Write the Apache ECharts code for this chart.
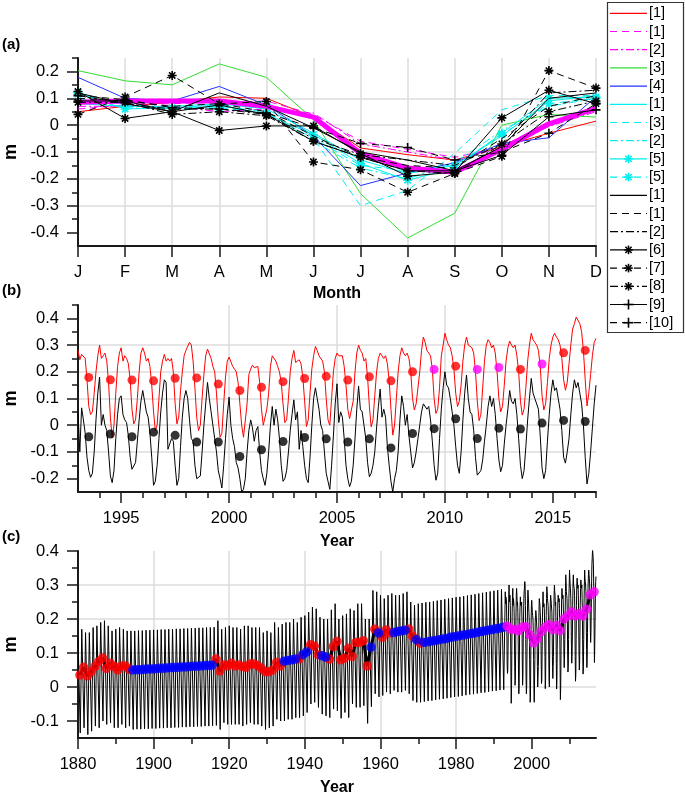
<!DOCTYPE html>
<html><head><meta charset="utf-8">
<script src="https://cdn.jsdelivr.net/npm/echarts@6/dist/echarts.min.js"></script>
<style>html,body{margin:0;padding:0;background:#fff}#c{width:685px;height:796px}</style>
</head><body><div id="c"></div>
<script>
// ---------------- Panel (a): monthly climatology ----------------
const monthLabels = ['J','F','M','A','M','J','J','A','S','O','N','D'];
const seaMean      = [0.085, 0.09, 0.09, 0.09, 0.07, 0.03, -0.105, -0.16, -0.175, -0.09, 0.005, 0.062];
const red1         = [0.05, 0.07, 0.085, 0.105, 0.1, 0.03, -0.085, -0.11, -0.13, -0.08, -0.03, 0.015];
const magDash1     = [0.06, 0.075, 0.08, 0.085, 0.09, 0.04, -0.06, -0.09, -0.12, -0.08, 0.01, 0.055];
const magDashDot2  = [0.07, 0.07, 0.07, 0.05, 0.06, 0.045, -0.07, -0.1, -0.13, -0.085, -0.005, 0.05];
const green3       = [0.203, 0.165, 0.15, 0.228, 0.178, 0.02, -0.255, -0.42, -0.328, 0.0, 0.04, 0.03];
const blue4        = [0.178, 0.10, 0.09, 0.144, 0.075, -0.04, -0.225, -0.178, -0.14, -0.068, -0.047, 0.106];
const cyan1        = [0.08, 0.07, 0.07, 0.08, 0.06, -0.03, -0.13, -0.18, -0.15, -0.04, 0.09, 0.11];
const cyanDash3    = [0.09, 0.08, 0.06, 0.07, 0.09, -0.05, -0.3, -0.243, -0.105, 0.057, 0.11, 0.11];
const cyanDashDot2 = [0.1, 0.065, 0.06, 0.07, 0.05, -0.06, -0.16, -0.2, -0.14, -0.02, 0.07, 0.1];
const cyanStar5    = [0.12, 0.06, 0.065, 0.075, 0.04, -0.035, -0.143, -0.205, -0.16, -0.03, 0.1, 0.105];
const cyanStarDash5= [0.115, 0.075, 0.06, 0.065, 0.045, -0.05, -0.15, -0.17, -0.15, -0.035, 0.08, 0.1];
const black1       = [0.12, 0.08, 0.05, 0.12, 0.07, -0.01, -0.1, -0.13, -0.17, -0.08, 0.1, 0.12];
const blackDash1   = [0.1, 0.09, 0.07, 0.08, 0.05, -0.04, -0.12, -0.15, -0.16, -0.05, 0.07, 0.11];
const blackDashDot2= [0.11, 0.08, 0.06, 0.06, 0.04, -0.05, -0.11, -0.13, -0.15, -0.07, 0.12, 0.13];
const blackStar6   = [0.125, 0.025, 0.05, -0.02, -0.003, -0.003, -0.106, -0.19, -0.175, 0.027, 0.13, 0.08];
const blackStarDash7 = [0.04, 0.105, 0.185, 0.079, 0.088, -0.137, -0.166, -0.25, -0.18, -0.116, 0.203, 0.138];
const blackStarDashDot8 = [0.085, 0.085, 0.04, 0.05, 0.035, -0.06, -0.12, -0.17, -0.18, -0.07, 0.05, 0.09];
const blackPlus9   = [0.09, 0.09, 0.05, 0.075, 0.04, -0.06, -0.12, -0.17, -0.17, -0.112, 0.031, 0.057];
const blackPlusDash10 = [0.11, 0.095, 0.065, 0.06, 0.045, -0.01, -0.068, -0.083, -0.13, -0.1, -0.03, 0.08];
const legendLabelsA = ['[1]','[1]','[2]','[3]','[4]','[1]','[3]','[2]','[5]','[5]','[1]','[1]','[2]','[6]','[7]','[8]','[9]','[10]'];

// ---------------- Panel (b): monthly 1993-2016 ----------------
const firstYearB = 1993;
const redMonthlyB = [
 0.28,0.245,0.265,0.27,0.25,0.17,0.07,0.04,0.05,0.12,0.2,0.26,
 0.30,0.25,0.26,0.27,0.24,0.16,0.03,-0.048,0.0,0.12,0.22,0.27,
 0.29,0.24,0.26,0.25,0.23,0.17,0.06,0.005,0.02,0.1,0.2,0.27,
 0.29,0.27,0.24,0.25,0.22,0.15,0.05,-0.02,0.0,0.1,0.2,0.24,
 0.265,0.24,0.25,0.24,0.25,0.2,0.08,0.005,0.03,0.13,0.2,0.26,
 0.28,0.28,0.31,0.3,0.24,0.14,0.03,-0.02,0.0,0.1,0.19,0.26,
 0.285,0.28,0.25,0.22,0.2,0.12,0.02,-0.045,-0.03,0.08,0.18,0.24,
 0.255,0.25,0.22,0.21,0.2,0.16,0.08,0.0,-0.045,-0.04,0.08,0.19,
 0.21,0.225,0.215,0.22,0.22,0.16,0.06,0.0,0.0,0.06,0.12,0.22,
 0.26,0.255,0.24,0.22,0.2,0.16,0.08,0.01,0.02,0.1,0.2,0.25,
 0.28,0.235,0.24,0.245,0.23,0.18,0.09,-0.005,0.02,0.12,0.21,0.26,
 0.295,0.28,0.26,0.26,0.24,0.2,0.1,0.02,0.0,0.1,0.2,0.25,
 0.27,0.26,0.255,0.26,0.22,0.15,0.06,0.025,0.03,0.09,0.2,0.27,
 0.3,0.28,0.27,0.24,0.25,0.18,0.07,-0.006,0.02,0.11,0.2,0.25,
 0.27,0.26,0.25,0.26,0.23,0.17,0.06,-0.037,0.0,0.1,0.2,0.26,
 0.29,0.27,0.26,0.27,0.25,0.2,0.1,0.057,0.08,0.14,0.2,0.28,
 0.33,0.31,0.28,0.27,0.26,0.21,0.1,0.044,0.06,0.14,0.26,0.3,
 0.344,0.32,0.3,0.29,0.26,0.21,0.12,0.07,0.09,0.15,0.24,0.3,
 0.33,0.3,0.3,0.29,0.27,0.2,0.09,0.017,0.04,0.14,0.24,0.3,
 0.32,0.31,0.29,0.3,0.27,0.2,0.1,0.05,0.07,0.15,0.24,0.29,
 0.315,0.3,0.29,0.3,0.26,0.2,0.09,0.038,0.06,0.14,0.24,0.3,
 0.344,0.32,0.31,0.3,0.28,0.22,0.11,0.057,0.08,0.16,0.25,0.3,
 0.33,0.344,0.33,0.32,0.3,0.25,0.17,0.131,0.16,0.23,0.3,0.36,
 0.38,0.405,0.4,0.38,0.35,0.28,0.17,0.072,0.12,0.19,0.26,0.31,
 0.325];
const blackMonthlyB = [
 0.05,-0.1,0.065,0.02,-0.03,-0.12,-0.17,-0.195,-0.18,-0.1,0.02,0.12,
 0.18,0.0,0.04,0.0,-0.02,-0.1,-0.19,-0.215,-0.17,-0.05,0.04,0.1,
 0.11,0.04,0.02,0.01,-0.04,-0.12,-0.165,-0.16,-0.14,-0.06,0.02,0.09,
 0.13,0.09,0.05,0.03,-0.03,-0.12,-0.225,-0.21,-0.15,-0.05,0.05,0.12,
 0.17,0.16,-0.09,-0.07,-0.05,-0.06,-0.15,-0.225,-0.2,-0.08,0.03,0.1,
 0.13,0.1,0.02,-0.05,-0.06,-0.15,-0.2,-0.205,-0.19,-0.1,0.0,0.08,
 0.16,0.1,0.05,0.0,-0.05,-0.1,-0.17,-0.2,-0.235,-0.15,-0.05,0.04,
 0.105,0.0,-0.05,-0.08,-0.14,-0.16,-0.2,-0.25,-0.24,-0.2,-0.1,-0.02,
 0.02,-0.01,-0.06,-0.02,-0.005,-0.1,-0.17,-0.2,-0.225,-0.18,-0.1,0.0,
 0.07,0.0,0.06,0.02,-0.05,-0.15,-0.21,-0.2,-0.17,-0.1,-0.02,0.04,
 0.095,0.02,0.05,-0.09,-0.02,-0.08,-0.15,-0.2,-0.215,-0.12,0.0,0.1,
 0.14,0.1,0.06,0.0,-0.02,-0.1,-0.18,-0.21,-0.24,-0.15,-0.04,0.08,
 0.155,0.01,0.05,0.03,-0.05,-0.15,-0.2,-0.23,-0.21,-0.15,-0.05,0.06,
 0.146,0.06,0.05,0.0,-0.05,-0.14,-0.193,-0.18,-0.15,-0.1,-0.01,0.07,
 0.135,0.03,0.06,0.03,-0.08,-0.15,-0.21,-0.25,-0.2,-0.17,-0.1,0.02,
 0.11,0.07,0.0,0.04,-0.04,-0.1,-0.16,-0.14,-0.1,-0.05,0.0,0.05,
 0.08,0.08,0.06,0.07,0.02,-0.06,-0.15,-0.206,-0.18,-0.05,0.06,0.14,
 0.2,0.15,0.14,0.1,0.05,0.0,-0.08,-0.15,-0.18,-0.1,0.02,0.12,
 0.188,0.1,0.05,0.04,-0.02,-0.12,-0.187,-0.18,-0.17,-0.13,-0.06,0.0,
 0.07,0.11,0.07,0.1,0.04,-0.05,-0.13,-0.174,-0.15,-0.07,0.0,0.06,
 0.13,0.09,0.08,0.1,0.04,-0.05,-0.15,-0.2,-0.17,-0.08,0.02,0.1,
 0.175,0.12,0.1,0.1,0.06,-0.04,-0.16,-0.2,-0.17,-0.06,0.04,0.12,
 0.17,0.13,0.14,0.1,0.06,-0.02,-0.12,-0.142,-0.1,-0.05,0.04,0.12,
 0.17,0.14,0.16,0.12,0.08,0.0,-0.12,-0.22,-0.18,-0.1,-0.01,0.08,
 0.15];
const yearsB = [1993,1994,1995,1996,1997,1998,1999,2000,2001,2002,2003,2004,2005,2006,2007,2008,2009,2010,2011,2012,2013,2014,2015,2016];
const redAnnualB = [0.179,0.17,0.169,0.166,0.176,0.177,0.154,0.13,0.142,0.163,0.175,0.183,0.169,0.181,0.166,0.2,0.209,0.221,0.209,0.216,0.209,0.229,0.271,0.28];
const blackAnnualB = [-0.043,-0.033,-0.043,-0.026,-0.038,-0.063,-0.063,-0.117,-0.092,-0.061,-0.046,-0.051,-0.063,-0.051,-0.085,-0.031,-0.013,0.024,-0.05,-0.011,-0.014,0.008,0.018,0.014];
const magentaYearsB = [2009, 2011, 2012, 2014];

// ---------------- Panel (c): 1880-1992 reconstruction ----------------
const firstYearC = 1880;
const highC = [
 0.15,0.17,0.16,0.16,0.175,0.18,0.19,0.195,0.18,0.165,0.17,0.175,0.17,0.165,
 0.165,0.165,0.166,0.166,0.167,0.167,0.168,0.168,0.169,0.169,0.17,0.17,0.171,0.171,0.172,0.172,0.173,0.173,0.174,0.174,0.175,0.175,0.176,
 0.195,0.17,0.175,0.18,0.175,0.175,0.17,0.18,0.18,0.175,0.175,0.175,0.16,0.165,0.16,0.19,0.175,
 0.185,0.19,0.19,0.2,0.19,0.205,0.21,
 0.22,0.235,0.23,0.205,0.2,0.2,0.227,0.245,0.2,0.21,0.215,0.23,0.225,0.245,0.245,0.2,
 0.2,0.284,0.28,0.27,0.26,0.27,0.275,0.27,0.27,0.275,0.28,0.25,0.24,
 0.245,0.247,0.249,0.25,0.252,0.254,0.256,0.258,0.26,0.262,0.264,0.265,0.267,0.269,0.271,0.273,0.275,0.277,0.279,0.281,0.283,0.285,0.287];
const lowC = [
 -0.135,-0.12,-0.14,-0.13,-0.115,-0.12,-0.1,-0.11,-0.105,-0.12,-0.12,-0.11,-0.12,-0.115,
 -0.125,-0.124,-0.124,-0.123,-0.123,-0.122,-0.122,-0.121,-0.121,-0.12,-0.12,-0.119,-0.119,-0.118,-0.118,-0.117,-0.117,-0.116,-0.116,-0.115,-0.115,-0.114,-0.113,
 -0.125,-0.105,-0.11,-0.11,-0.11,-0.11,-0.115,-0.11,-0.105,-0.11,-0.11,-0.115,-0.125,-0.12,-0.115,-0.095,-0.1,
 -0.1,-0.095,-0.095,-0.09,-0.09,-0.085,-0.075,
 -0.05,-0.045,-0.06,-0.08,-0.085,-0.09,-0.065,-0.07,-0.092,-0.075,-0.09,-0.05,-0.06,-0.06,-0.055,-0.107,
 -0.058,-0.02,-0.029,-0.025,-0.015,-0.02,-0.01,-0.015,-0.015,-0.01,-0.02,-0.04,-0.045,
 -0.045,-0.043,-0.041,-0.04,-0.038,-0.036,-0.035,-0.033,-0.031,-0.029,-0.028,-0.026,-0.024,-0.022,-0.021,-0.019,-0.017,-0.016,-0.014,-0.012,-0.011,-0.009,-0.008];
const annualC = [
 0.035,0.058,0.033,0.045,0.06,0.075,0.085,0.055,0.07,0.06,0.05,0.062,0.062,0.052,
 0.050,0.051,0.051,0.052,0.053,0.053,0.054,0.055,0.055,0.056,0.057,0.057,0.058,0.059,0.059,0.060,0.061,0.061,0.062,0.063,0.063,0.064,
 0.082,0.047,0.065,0.062,0.07,0.062,0.065,0.06,0.058,0.068,0.068,0.063,0.055,0.045,0.045,0.05,0.072,0.062,
 0.076,0.078,0.08,0.082,0.083,0.095,0.103,
 0.124,0.12,0.095,0.092,0.088,
 0.082,0.119,0.134,0.08,0.085,0.114,0.09,0.131,0.131,0.136,0.062,
 0.117,0.17,0.159,0.146,0.168,0.159,0.16,0.163,0.165,0.167,0.17,0.149,0.139,0.129,
 0.131,0.133,0.135,0.137,0.139,0.141,0.143,0.146,0.148,0.15,0.152,0.154,0.156,0.158,0.16,0.163,0.165,0.167,0.169,0.171,0.173,0.176];
const filledYearsC = [1894,1895,1896,1897,1898,1899,1900,1901,1902,1903,1904,1905,1906,1907,1908,1909,1910,1911,1912,1913,1914,1915,
 1934,1935,1936,1937,1939,1940,1944,1945,1957,1959,1963,1964,1965,1966,1969,
 1971,1972,1973,1974,1975,1976,1977,1978,1979,1980,1981,1982,1983,1984,1985,1986,1987,1988,1989,1990,1991,1992];

// ---------------- styling ----------------
const FONT = '"Liberation Sans", Arial, Helvetica, sans-serif';
const AX = '#1a1a1a', GRIDC = '#dcdcdc';
const DASH = [7, 5], DASHDOT = [8, 3, 2, 3];
const STAR = 'path://M5,0L5,10M0,5L10,5M1.5,1.5L8.5,8.5M1.5,8.5L8.5,1.5';
const PLUS = 'path://M5,0L5,10M0,5L10,5';
const RED = '#ff0000', MAG = '#ff00ff', GRN = '#33dd33', BLU = '#2233ff', CYN = '#00eeee', BLK = '#000000';

const specA = [
 {d: red1, c: RED, t: 'solid'},
 {d: magDash1, c: MAG, t: DASH},
 {d: magDashDot2, c: MAG, t: DASHDOT},
 {d: green3, c: GRN, t: 'solid'},
 {d: blue4, c: BLU, t: 'solid'},
 {d: cyan1, c: CYN, t: 'solid'},
 {d: cyanDash3, c: CYN, t: DASH},
 {d: cyanDashDot2, c: CYN, t: DASHDOT},
 {d: cyanStar5, c: CYN, t: 'solid', m: 'star'},
 {d: cyanStarDash5, c: CYN, t: DASH, m: 'star'},
 {d: black1, c: BLK, t: 'solid'},
 {d: blackDash1, c: BLK, t: DASH},
 {d: blackDashDot2, c: BLK, t: DASHDOT},
 {d: blackStar6, c: BLK, t: 'solid', m: 'star'},
 {d: blackStarDash7, c: BLK, t: DASH, m: 'star'},
 {d: blackStarDashDot8, c: BLK, t: DASHDOT, m: 'star'},
 {d: blackPlus9, c: BLK, t: 'solid', m: 'plus'},
 {d: blackPlusDash10, c: BLK, t: DASH, m: 'plus'}
];

const series = [];
function lineA(s, z) {
  return {type: 'line', xAxisIndex: 0, yAxisIndex: 0, data: s.d, silent: true, z: z,
    symbol: s.m === 'star' ? STAR : (s.m === 'plus' ? PLUS : 'none'),
    showSymbol: !!s.m, symbolSize: 9,
    lineStyle: {color: s.c, width: 1, type: s.t},
    itemStyle: {color: s.c, borderColor: s.c, borderWidth: 1.6}};
}
specA.slice(0, 10).forEach(s => series.push(lineA(s, 2)));
series.push({type: 'line', xAxisIndex: 0, yAxisIndex: 0, data: seaMean, symbol: 'none', silent: true, z: 3,
  lineStyle: {color: MAG, width: 5}});
specA.slice(10).forEach(s => series.push(lineA(s, 4)));

// panel (b)
const redLineB = redMonthlyB.map((v, i) => [firstYearB + i / 12, v]);
const blackLineB = blackMonthlyB.map((v, i) => [firstYearB + i / 12, v]);
series.push({type: 'line', xAxisIndex: 1, yAxisIndex: 2, data: redLineB, symbol: 'none', silent: true,
  lineStyle: {color: RED, width: 1}});
series.push({type: 'line', xAxisIndex: 1, yAxisIndex: 2, data: blackLineB, symbol: 'none', silent: true,
  lineStyle: {color: BLK, width: 1}});
series.push({type: 'scatter', xAxisIndex: 1, yAxisIndex: 2, symbolSize: 9, silent: true, z: 5,
  itemStyle: {color: RED},
  data: yearsB.map((y, i) => magentaYearsB.includes(y) ? null : [y + 0.5, redAnnualB[i]]).filter(Boolean)});
series.push({type: 'scatter', xAxisIndex: 1, yAxisIndex: 2, symbolSize: 9, silent: true, z: 5,
  itemStyle: {color: MAG},
  data: yearsB.map((y, i) => magentaYearsB.includes(y) ? [y + 0.5, redAnnualB[i]] : null).filter(Boolean)});
series.push({type: 'scatter', xAxisIndex: 1, yAxisIndex: 2, symbolSize: 9, silent: true, z: 5,
  itemStyle: {color: BLK},
  data: yearsB.map((y, i) => [y + 0.5, blackAnnualB[i]])});

// panel (c)
const zig = [];
highC.forEach((h, i) => { zig.push([firstYearC + i, h]); zig.push([firstYearC + i + 0.6, lowC[i]]); });
redMonthlyB.forEach((v, i) => zig.push([firstYearB + i / 12, v]));
series.push({type: 'line', xAxisIndex: 3, yAxisIndex: 4, data: zig, symbol: 'none', silent: true,
  lineStyle: {color: BLK, width: 1}});
const meanLineC = annualC.map((v, i) => [firstYearC + i + 0.5, v])
  .concat(yearsB.map((y, i) => [y + 0.5, redAnnualB[i]]));
series.push({type: 'line', xAxisIndex: 3, yAxisIndex: 4, data: meanLineC, symbol: 'none', silent: true, z: 3,
  lineStyle: {color: BLK, width: 3}});
series.push({type: 'scatter', xAxisIndex: 3, yAxisIndex: 4, symbolSize: 9.5, silent: true, z: 5,
  itemStyle: {color: RED},
  data: annualC.map((v, i) => filledYearsC.includes(firstYearC + i) ? null : [firstYearC + i + 0.5, v]).filter(Boolean)});
series.push({type: 'scatter', xAxisIndex: 3, yAxisIndex: 4, symbolSize: 9.5, silent: true, z: 5,
  itemStyle: {color: '#0000ff'},
  data: annualC.map((v, i) => filledYearsC.includes(firstYearC + i) ? [firstYearC + i + 0.5, v] : null).filter(Boolean)});
series.push({type: 'scatter', xAxisIndex: 3, yAxisIndex: 4, symbolSize: 9.5, silent: true, z: 5,
  itemStyle: {color: MAG},
  data: yearsB.map((y, i) => [y + 0.5, redAnnualB[i]])});

// ---------------- axes ----------------
const labelStyle = {fontSize: 16.5, color: '#000', fontFamily: FONT};
const nameStyle = {fontSize: 16, fontWeight: 'bold', color: '#000', fontFamily: FONT};
const plainYear = v => String(Math.round(v));
function mainValueAxis(gridIndex, min, max, splitNumber, majors, extra) {
  return Object.assign({
    type: 'value', gridIndex, min, max, splitNumber,
    axisLine: {show: true, onZero: false, lineStyle: {color: AX, width: 2}},
    axisTick: {show: true, inside: false, length: 11, customValues: majors, lineStyle: {color: AX, width: 1.5}},
    axisLabel: Object.assign({customValues: majors, margin: 19}, labelStyle),
    splitLine: {show: true, showMinLine: false, showMaxLine: false, lineStyle: {color: GRIDC, width: 1.5}},
    minorTick: {show: false}
  }, extra || {});
}
function minorAxis(gridIndex, min, max, values, pos) {
  return {type: 'value', gridIndex, min, max, position: pos, offset: 0,
    axisLine: {show: false, onZero: false}, axisLabel: {show: false}, splitLine: {show: false},
    axisTick: {show: true, inside: false, length: 6, customValues: values, lineStyle: {color: AX, width: 1.5}}};
}
const yMajA = [-0.4, -0.3, -0.2, -0.1, 0, 0.1, 0.2];
const yMinA = [-0.35, -0.25, -0.15, -0.05, 0.05, 0.15, 0.25];
const yMajB = [-0.2, -0.1, 0, 0.1, 0.2, 0.3, 0.4];
const yMinB = [-0.15, -0.05, 0.05, 0.15, 0.25, 0.35, 0.45];
const yMajC = [-0.1, 0, 0.1, 0.2, 0.3, 0.4];
const yMinC = [-0.05, 0.05, 0.15, 0.25, 0.35];
const xMajB = [1995, 2000, 2005, 2010, 2015];
const xMinB = [1994, 1996, 1997, 1998, 1999, 2001, 2002, 2003, 2004, 2006, 2007, 2008, 2009, 2011, 2012, 2013, 2014, 2016, 2017];
const xMajC = [1880, 1900, 1920, 1940, 1960, 1980, 2000];
const xMinC = [1890, 1910, 1930, 1950, 1970, 1990, 2010];

const yName = {name: 'm', nameLocation: 'middle', nameGap: 48, nameRotate: 90,
  nameTextStyle: {fontSize: 18, fontWeight: 'bold', color: '#000', fontFamily: FONT}};

const xAxis = [
  {type: 'category', gridIndex: 0, data: monthLabels, boundaryGap: false,
   axisLine: {show: true, onZero: false, lineStyle: {color: AX, width: 2}},
   axisTick: {show: true, inside: false, length: 11, alignWithLabel: true, interval: 0, lineStyle: {color: AX, width: 1.5}},
   axisLabel: Object.assign({interval: 0, margin: 18}, labelStyle),
   splitLine: {show: true, interval: 0, lineStyle: {color: GRIDC, width: 1.5}},
   name: 'Month', nameLocation: 'middle', nameGap: 40, nameTextStyle: nameStyle},
  mainValueAxis(1, 1993, 2017, 5, xMajB, {name: 'Year', nameLocation: 'middle', nameGap: 42, nameTextStyle: nameStyle,
    axisLabel: Object.assign({customValues: xMajB, margin: 18, formatter: plainYear}, labelStyle)}),
  minorAxis(1, 1993, 2017, xMinB, 'bottom'),
  mainValueAxis(2, 1880, 2017, 7, xMajC, {name: 'Year', nameLocation: 'middle', nameGap: 42, nameTextStyle: nameStyle,
    axisLabel: Object.assign({customValues: xMajC, margin: 18, formatter: plainYear}, labelStyle)}),
  minorAxis(2, 1880, 2017, xMinC, 'bottom')
];
const yAxis = [
  mainValueAxis(0, -0.45, 0.25, 7, yMajA, yName),
  minorAxis(0, -0.45, 0.25, yMinA, 'left'),
  mainValueAxis(1, -0.25, 0.45, 7, yMajB, yName),
  minorAxis(1, -0.25, 0.45, yMinB, 'left'),
  mainValueAxis(2, -0.15, 0.4, 5, yMajC, yName),
  minorAxis(2, -0.15, 0.4, yMinC, 'left')
];

// ---------------- legend box (graphic) ----------------
const graphic = [
  {type: 'rect', shape: {x: 607.5, y: 2.5, width: 76, height: 330}, style: {fill: '#fff', stroke: '#333', lineWidth: 1.2}, z: 100}
];
specA.forEach((s, i) => {
  const y = 13.3 + i * 18.2;
  const dash = Array.isArray(s.t) ? s.t : null;
  graphic.push({type: 'line', shape: {x1: 610, y1: y, x2: 647, y2: y}, style: {stroke: s.c, lineWidth: 1.2, lineDash: dash}, z: 101});
  const cx = 628.5, r = 4.3, q = r * 0.72;
  if (s.m) {
    const segs = s.m === 'star'
      ? [[cx, y - r, cx, y + r], [cx - r, y, cx + r, y], [cx - q, y - q, cx + q, y + q], [cx - q, y + q, cx + q, y - q]]
      : [[cx, y - r - 0.7, cx, y + r + 0.7], [cx - r - 0.7, y, cx + r + 0.7, y]];
    segs.forEach(g => graphic.push({type: 'line', shape: {x1: g[0], y1: g[1], x2: g[2], y2: g[3]},
      style: {stroke: s.c, lineWidth: 1.6}, z: 102}));
  }
  graphic.push({type: 'text', x: 649, y: y, style: {text: legendLabelsA[i], fill: '#000',
    font: '14.5px ' + FONT, verticalAlign: 'middle', align: 'left'}, z: 101});
});
[['(a)', 37], ['(b)', 283], ['(c)', 529]].forEach(p => graphic.push({type: 'text', x: 2, y: p[1],
  style: {text: p[0], fill: '#000', font: 'bold 15px ' + FONT}, z: 101}));

const chart = echarts.init(document.getElementById('c'));
chart.setOption({
  animation: false,
  backgroundColor: '#fff',
  grid: [
    {left: 78, top: 58, width: 518, height: 188, containLabel: false, outerBoundsMode: 'none'},
    {left: 78, top: 305, width: 518, height: 187, containLabel: false, outerBoundsMode: 'none'},
    {left: 78, top: 551, width: 518, height: 187, containLabel: false, outerBoundsMode: 'none'}
  ],
  xAxis, yAxis, series, graphic
});
</script></body></html>
